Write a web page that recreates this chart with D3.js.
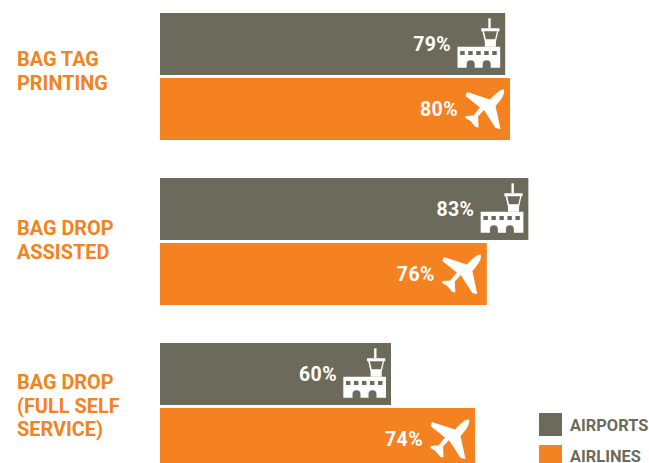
<!DOCTYPE html>
<html>
<head>
<meta charset="utf-8">
<script src="https://cdn.jsdelivr.net/npm/d3@7/dist/d3.min.js"></script>
<style>
    html, body { margin: 0; padding: 0; background: #fff; }
    svg { display: block; }
    text { font-family: Roboto, sans-serif; font-weight: 700; }
</style>
</head>
<body>
<script>
var categories = ['Bag Tag Printing', 'Bag Drop Assisted', 'Bag Drop (Full Self Service)'];
var categoryLines = [['BAG TAG', 'PRINTING'], ['BAG DROP', 'ASSISTED'], ['BAG DROP', '(FULL SELF', 'SERVICE)']];
var seriesNames = ['AIRPORTS', 'AIRLINES'];

// The printed percentages and the drawn bar lengths disagree in the original
// (60% is much shorter than it should be), so both are kept as read off the picture.
var airportLabels = ['79%', '83%', '60%'];
var airlineLabels = ['80%', '76%', '74%'];
var airportLengths = [78.9, 84.2, 52.8];
var airlineLengths = [80, 74.7, 72];

var width = 649;
var height = 463;
var grey = '#6c6a5a';
var orange = '#f58220';

// first baseline of each category label, relative to its group
var labelFirstBaseline = [53, 57, 46];

var svg = d3.select('body').append('svg').attr('width', width).attr('height', height);

var x = d3.scaleLinear().domain([0, 100]).range([160, 597.5]);
var yGroup = d3.scaleBand().domain(categories).range([13, 508]);
var ySeries = d3.scaleBand().domain(seriesNames).range([0, 127]).paddingInner(3 / 65);
var color = d3.scaleOrdinal().domain(seriesNames).range([grey, orange]);

// icons, origin at the end of the bar / top of the bar
var towerParts = [
    'M-16.9 5.3h2.4v10h-2.4z',
    'M-24 15.3h18.3v3h-1.2l-2.4 10.4v5h-11.1v-5l-2.4-10.4h-1.2z M-21.2 18.3l1.9 8h9.2l1.9-8z',
    'M-47.7 33.7h42.7v21h-9.5v-3.5a3.6 3.6 0 0 0-8 0v3.5h-8v-3.5a3.6 3.6 0 0 0-8 0v3.5h-9.2z' +
    'M-45 38v4h4.5v-4z M-37 38v4h4.5v-4z M-29 38v4h4.5v-4z M-21 38v4h4.5v-4z M-13 38v4h4.5v-4z'
];
var planePath = 'M-6 11.5 C-5 16 -8 21 -14.5 28 L-9.5 51 L-14.5 50 L-26 32 L-32 38.5 L-31.5 49.5 L-34.5 49 L-39.5 43 L-44.5 40 L-44.5 38 L-36.5 37.5 L-30 29.5 L-44.5 18 L-43 14 L-20 21.5 C-13 14 -9 11 -6 11.5z';

var group = svg.selectAll('g.group')
    .data(categories)
    .join('g')
    .attr('class', 'group')
    .attr('transform', function (d) { return 'translate(0,' + yGroup(d) + ')'; });

seriesNames.forEach(function (name, s) {
    var lengths = s === 0 ? airportLengths : airlineLengths;
    var labels = s === 0 ? airportLabels : airlineLabels;

    group.append('rect')
        .attr('x', x(0))
        .attr('y', ySeries(name))
        .attr('width', function (d, i) { return x(lengths[i]) - x(0); })
        .attr('height', ySeries.bandwidth())
        .attr('fill', color(name));

    group.append('text')
        .attr('x', function (d, i) { return x(lengths[i]) - (s === 0 ? 54 : 52); })
        .attr('y', ySeries(name) + 37.5)
        .attr('text-anchor', 'end')
        .attr('font-size', 19.5)
        .attr('letter-spacing', 0.4)
        .attr('fill', '#fff')
        .text(function (d, i) { return labels[i]; });

    var icon = group.append('g')
        .attr('transform', function (d, i) {
            return 'translate(' + x(lengths[i]) + ',' + ySeries(name) + ')';
        })
        .attr('fill', '#fff');

    if (s === 0) {
        towerParts.forEach(function (p) {
            icon.append('path').attr('d', p).attr('fill-rule', 'evenodd');
        });
    } else {
        icon.append('path').attr('d', planePath);
    }
});

// category labels
group.append('text')
    .attr('fill', orange)
    .attr('font-size', 19.9)
    .each(function (d, i) {
        d3.select(this).selectAll('tspan')
            .data(categoryLines[i])
            .join('tspan')
            .attr('x', 17)
            .attr('y', function (l, j) { return labelFirstBaseline[i] + j * 23.5; })
            .text(function (l) { return l; });
    });

// legend
var legend = svg.selectAll('g.legend')
    .data(seriesNames)
    .join('g')
    .attr('class', 'legend')
    .attr('transform', function (d, i) { return 'translate(539,' + (413 + i * 32) + ')'; });

legend.append('rect')
    .attr('width', 23)
    .attr('height', 23)
    .attr('fill', function (d) { return color(d); });

legend.append('text')
    .attr('x', 31)
    .attr('y', function (d, i) { return 18 - i; })
    .attr('font-size', 16.4)
    .attr('fill', grey)
    .text(function (d) { return d; });
</script>
</body>
</html>
